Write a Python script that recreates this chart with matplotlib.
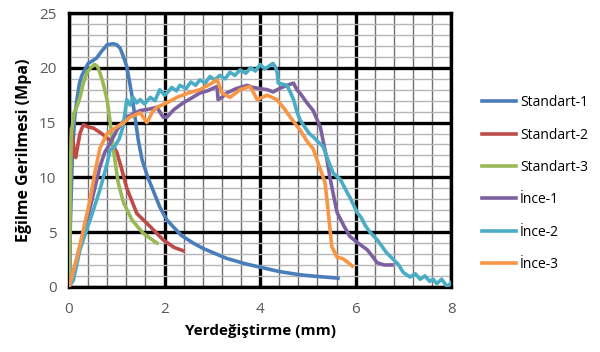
import numpy as np
import matplotlib
matplotlib.use('Agg')
import matplotlib.pyplot as plt
from matplotlib.ticker import MultipleLocator

# Standart series
std1_x = [0, 0.03, 0.07, 0.12, 0.17, 0.22, 0.27, 0.33, 0.4, 0.48, 0.58, 0.68,
          0.8, 0.93, 1.0, 1.07, 1.14, 1.21, 1.32, 1.45, 1.53, 1.65, 1.9, 2.05,
          2.35, 2.6, 2.81, 3.3, 3.7, 4.0, 4.4, 4.84, 5.2, 5.63]
std1_y = [0, 6, 12, 15.5, 17.2, 18.6, 19.3, 19.8, 20.4, 20.6, 20.9, 21.5,
          22.1, 22.2, 22.1, 21.8, 21.0, 20.1, 17.4, 13.4, 11.6, 10.0, 7.3, 6.1,
          4.7, 4.0, 3.5, 2.6, 2.1, 1.8, 1.4, 1.1, 0.95, 0.8]

std2_x = [0, 0.02, 0.05, 0.08, 0.11, 0.14, 0.18, 0.23, 0.3, 0.4, 0.51, 0.65,
          0.86, 1.0, 1.1, 1.21, 1.42, 1.7, 1.97, 2.2, 2.39]
std2_y = [0, 7, 14.5, 13.5, 12.3, 11.8, 12.8, 14.0, 14.8, 14.6, 14.5, 14.1,
          13.4, 12.3, 10.8, 9.0, 6.7, 5.5, 4.3, 3.6, 3.3]

std3_x = [0, 0.02, 0.03, 0.05, 0.1, 0.17, 0.23, 0.3, 0.37, 0.45, 0.54, 0.6,
          0.65, 0.72, 0.8, 0.87, 0.93, 1.03, 1.14, 1.32, 1.55, 1.84]
std3_y = [0, 5, 10, 14, 15.8, 16.5, 17.3, 18.6, 19.5, 20.0, 20.3, 20.1,
          19.5, 18.5, 17.0, 14.8, 12.5, 9.5, 7.7, 6.1, 4.9, 4.0]

# Ince series
ince1_x = [0, 0.1, 0.2, 0.3, 0.4, 0.5, 0.65, 0.75, 0.86, 1.0, 1.1, 1.21, 1.35,
           1.49, 1.65, 1.84, 1.97, 2.05, 2.2, 2.39, 2.55, 2.74, 2.9, 3.1, 3.12,
           3.2, 3.3, 3.5, 3.73, 3.85, 4.0, 4.15, 4.27, 4.45, 4.63, 4.7, 4.77,
           4.85, 4.98, 5.11, 5.26, 5.4, 5.47, 5.61, 5.75, 5.88, 6.05, 6.24,
           6.35, 6.45, 6.6, 6.76]
ince1_y = [0, 1.5, 3.2, 4.8, 6.5, 8.3, 11.0, 12.3, 13.1, 14.3, 14.9, 15.5,
           15.8, 16.1, 16.2, 16.4, 15.5, 15.5, 16.2, 16.8, 17.2, 17.7, 17.9,
           18.3, 17.1, 17.3, 17.7, 18.1, 18.4, 18.2, 18.1, 18.0, 17.8, 18.2,
           18.5, 18.6, 18.0, 17.6, 16.8, 16.1, 14.6, 11.6, 9.8, 6.8, 5.6, 4.6,
           4.0, 3.4, 2.8, 2.2, 2.0, 2.0]

ince2_x = [0, 0.09, 0.23, 0.44, 0.65, 0.8, 0.86, 0.95, 1.05, 1.13, 1.21, 1.28,
           1.34, 1.42, 1.49, 1.58, 1.7, 1.8, 1.9, 2.0, 2.05, 2.15, 2.25, 2.32,
           2.45, 2.55, 2.65, 2.74, 2.85, 2.95, 3.05, 3.16, 3.27, 3.37, 3.47,
           3.58, 3.7, 3.8, 3.9, 4.0, 4.1, 4.2, 4.27, 4.33, 4.36, 4.38, 4.47,
           4.56, 4.63, 4.7, 4.77, 4.84, 4.95, 5.03, 5.11, 5.2, 5.32, 5.42,
           5.53, 5.6, 5.68, 5.8, 5.9, 6.03, 6.12, 6.2, 6.3, 6.45, 6.55, 6.65,
           6.79, 6.9, 7.0, 7.14, 7.25, 7.35, 7.45, 7.55, 7.62, 7.7, 7.8, 7.92,
           8.0]
ince2_y = [0, 0.6, 3.4, 6.1, 8.9, 11.3, 12.5, 12.8, 13.5, 14.6, 17.1, 16.6,
           17.3, 16.8, 17.1, 16.7, 17.3, 17.0, 18.0, 17.5, 17.7, 18.2, 17.9,
           18.4, 18.1, 18.7, 18.4, 18.9, 18.6, 19.2, 18.9, 19.3, 19.0, 19.6,
           19.3, 19.8, 19.5, 20.0, 19.7, 20.3, 19.9, 20.2, 20.4, 20.0, 19.5,
           18.6, 18.5, 18.4, 17.8, 17.1, 16.0, 15.2, 14.5, 14.0, 13.7, 13.3,
           12.8, 11.6, 10.4, 10.1, 9.8, 8.8, 8.0, 6.8, 6.3, 5.6, 5.0, 4.3, 3.7,
           3.1, 2.5, 2.0, 1.3, 0.9, 1.2, 0.7, 1.0, 0.5, 0.7, 0.3, 0.7, 0.0, 0.4]

ince3_x = [0, 0.17, 0.3, 0.44, 0.54, 0.65, 0.8, 1.0, 1.15, 1.28, 1.49, 1.63,
           1.75, 1.84, 2.05, 2.26, 2.5, 2.74, 2.95, 3.1, 3.2, 3.37, 3.58, 3.79,
           3.94, 4.15, 4.35, 4.5, 4.63, 4.84, 4.98, 5.11, 5.32, 5.36, 5.43,
           5.5, 5.61, 5.72, 5.82, 5.93]
ince3_y = [0, 2.7, 5.2, 7.9, 10.4, 12.7, 14.0, 14.6, 15.0, 15.5, 15.9, 15.0,
           16.0, 16.4, 16.8, 17.3, 17.7, 18.0, 18.5, 18.9, 17.7, 17.3, 18.0,
           18.3, 17.1, 17.5, 17.1, 16.3, 15.5, 14.3, 13.3, 12.6, 10.0, 9.5,
           6.7, 3.7, 2.7, 2.6, 2.3, 1.9]

labels = ['Standart-1', 'Standart-2', 'Standart-3', 'İnce-1', 'İnce-2', 'İnce-3']
colors = ['#4a7ebb', '#be4b48', '#98b954', '#7d60a0', '#4bacc6', '#f79646']

plt.rcParams['font.family'] = ['Open Sans', 'DejaVu Sans']

fig = plt.figure(figsize=(6.0, 3.52), dpi=100)
ax = fig.add_axes([0.115, 0.185, 0.637, 0.778])

series = [(std1_x, std1_y), (std2_x, std2_y), (std3_x, std3_y),
          (ince1_x, ince1_y), (ince2_x, ince2_y), (ince3_x, ince3_y)]
for (x, y), lab, c in zip(series, labels, colors):
    ax.plot(x, y, color=c, lw=2.6, label=lab, zorder=3)

ax.set_xlim(0, 8)
ax.set_ylim(0, 25)
ax.xaxis.set_major_locator(MultipleLocator(2))
ax.yaxis.set_major_locator(MultipleLocator(5))
ax.xaxis.set_minor_locator(MultipleLocator(0.4))
ax.yaxis.set_minor_locator(MultipleLocator(1))
ax.grid(which='minor', axis='x', color='#707070', lw=1.0)
ax.grid(which='minor', axis='y', color='#b5b5b5', lw=1.0)
ax.grid(which='major', color='black', lw=2.4)
ax.set_axisbelow(True)
for s in ax.spines.values():
    s.set_linewidth(2.4)
    s.set_color('black')
ax.tick_params(which='both', length=0, labelsize=11, colors='#595959')
ax.tick_params(axis='x', pad=11)
ax.tick_params(axis='y', pad=9)

ax.set_xlabel('Yerdeğiştirme (mm)', fontsize=11, fontweight='bold', labelpad=5)
ax.set_ylabel('Eğilme Gerilmesi (Mpa)', fontsize=11.5, fontweight='bold',
              labelpad=5)

fig.legend(loc='upper left', bbox_to_anchor=(0.783, 0.765), frameon=False,
           fontsize=10, handlelength=2.4, handletextpad=0.3, labelspacing=1.25)

fig.savefig('out.png', dpi=100)
